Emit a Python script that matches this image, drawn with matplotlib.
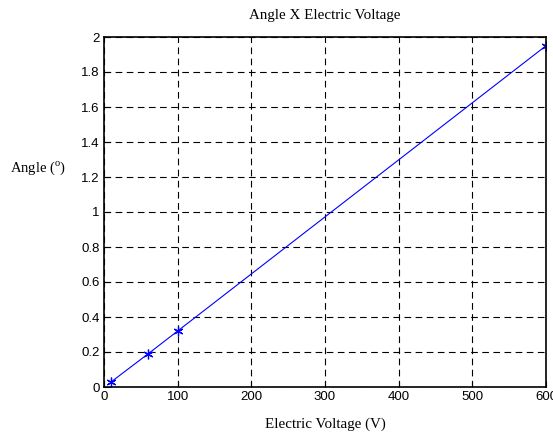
import matplotlib
matplotlib.use("Agg")
import matplotlib.pyplot as plt

voltage = [10, 60, 100, 600]
angle = [0.03, 0.19, 0.32, 1.95]
xticks = [0, 100, 200, 300, 400, 500, 600]
yticks = [0, 0.2, 0.4, 0.6, 0.8, 1, 1.2, 1.4, 1.6, 1.8, 2]
ytick_labels = ["0", "0.2", "0.4", "0.6", "0.8", "1", "1.2", "1.4", "1.6", "1.8", "2"]

plt.rcParams["mathtext.fontset"] = "custom"
plt.rcParams["mathtext.rm"] = "Liberation Serif"

fig = plt.figure(figsize=(5.53, 4.32), dpi=100)
ax = fig.add_axes([104/553, 1-387/432, (546-104)/553, (387-37)/432])
ax.plot(voltage, angle, color="blue", linewidth=0.8, marker=(6, 2, 0), markersize=7,
        markeredgewidth=0.9)
ax.set_xlim(0, 600)
ax.set_ylim(0, 2)
ax.set_xticks(xticks)
ax.set_yticks(yticks)
ax.set_yticklabels(ytick_labels)
ax.grid(True, color="black", linestyle=(0, (6, 4)), linewidth=0.8)
for s in ax.spines.values():
    s.set_linewidth(1.2)
ax.tick_params(direction="in", length=4, labelsize=9.5, pad=3)
for lab in ax.get_xticklabels() + ax.get_yticklabels():
    lab.set_family("Liberation Sans")
ax.set_title("Angle X Electric Voltage", family="Liberation Serif", fontsize=10.8, pad=13)
ax.set_xlabel("Electric Voltage (V)", family="Liberation Serif", fontsize=10.8, labelpad=10)
ax.set_ylabel("Angle ($^{\\mathrm{o}}$)", family="Liberation Serif", fontsize=10.5,
              rotation=0, ha="left", va="center")
ax.yaxis.set_label_coords(-94/442, (387-168)/350)
fig.savefig("out.png", dpi=100)
